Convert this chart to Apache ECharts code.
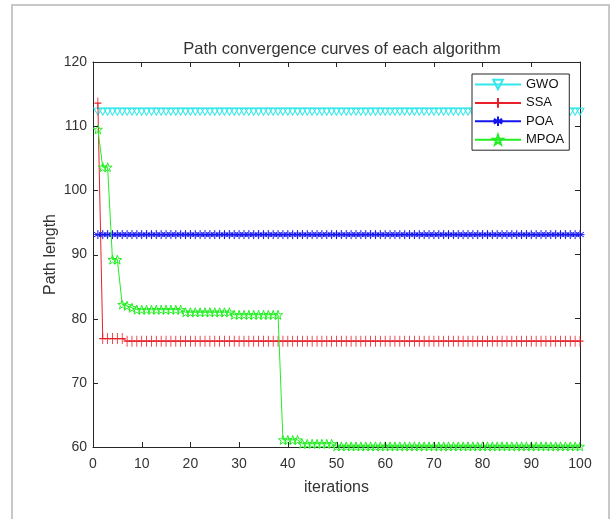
<!DOCTYPE html>
<html>
<head>
    <meta charset="utf-8">
    <title>Path convergence curves</title>
    <script src="https://cdn.jsdelivr.net/npm/echarts@6/dist/echarts.min.js"></script>
    <style>
        html, body { margin: 0; padding: 0; background: #fff; }
        #main { width: 614px; height: 519px; }
    </style>
</head>
<body>
    <div id="main"></div>
    <script type="text/javascript">
        // iterations 1..100
        var iterations = [
            1, 2, 3, 4, 5, 6, 7, 8, 9, 10,
            11, 12, 13, 14, 15, 16, 17, 18, 19, 20,
            21, 22, 23, 24, 25, 26, 27, 28, 29, 30,
            31, 32, 33, 34, 35, 36, 37, 38, 39, 40,
            41, 42, 43, 44, 45, 46, 47, 48, 49, 50,
            51, 52, 53, 54, 55, 56, 57, 58, 59, 60,
            61, 62, 63, 64, 65, 66, 67, 68, 69, 70,
            71, 72, 73, 74, 75, 76, 77, 78, 79, 80,
            81, 82, 83, 84, 85, 86, 87, 88, 89, 90,
            91, 92, 93, 94, 95, 96, 97, 98, 99, 100
        ];
        var gwo = [
            112.8, 112.8, 112.8, 112.8, 112.8, 112.8, 112.8, 112.8, 112.8, 112.8,
            112.8, 112.8, 112.8, 112.8, 112.8, 112.8, 112.8, 112.8, 112.8, 112.8,
            112.8, 112.8, 112.8, 112.8, 112.8, 112.8, 112.8, 112.8, 112.8, 112.8,
            112.8, 112.8, 112.8, 112.8, 112.8, 112.8, 112.8, 112.8, 112.8, 112.8,
            112.8, 112.8, 112.8, 112.8, 112.8, 112.8, 112.8, 112.8, 112.8, 112.8,
            112.8, 112.8, 112.8, 112.8, 112.8, 112.8, 112.8, 112.8, 112.8, 112.8,
            112.8, 112.8, 112.8, 112.8, 112.8, 112.8, 112.8, 112.8, 112.8, 112.8,
            112.8, 112.8, 112.8, 112.8, 112.8, 112.8, 112.8, 112.8, 112.8, 112.8,
            112.8, 112.8, 112.8, 112.8, 112.8, 112.8, 112.8, 112.8, 112.8, 112.8,
            112.8, 112.8, 112.8, 112.8, 112.8, 112.8, 112.8, 112.8, 112.8, 112.8
        ];
        var ssa = [
            113.6, 76.9, 76.9, 76.9, 76.9, 76.9, 76.5, 76.5, 76.5, 76.5,
            76.5, 76.5, 76.5, 76.5, 76.5, 76.5, 76.5, 76.5, 76.5, 76.5,
            76.5, 76.5, 76.5, 76.5, 76.5, 76.5, 76.5, 76.5, 76.5, 76.5,
            76.5, 76.5, 76.5, 76.5, 76.5, 76.5, 76.5, 76.5, 76.5, 76.5,
            76.5, 76.5, 76.5, 76.5, 76.5, 76.5, 76.5, 76.5, 76.5, 76.5,
            76.5, 76.5, 76.5, 76.5, 76.5, 76.5, 76.5, 76.5, 76.5, 76.5,
            76.5, 76.5, 76.5, 76.5, 76.5, 76.5, 76.5, 76.5, 76.5, 76.5,
            76.5, 76.5, 76.5, 76.5, 76.5, 76.5, 76.5, 76.5, 76.5, 76.5,
            76.5, 76.5, 76.5, 76.5, 76.5, 76.5, 76.5, 76.5, 76.5, 76.5,
            76.5, 76.5, 76.5, 76.5, 76.5, 76.5, 76.5, 76.5, 76.5, 76.5
        ];
        var poa = [
            93.1, 93.1, 93.1, 93.1, 93.1, 93.1, 93.1, 93.1, 93.1, 93.1,
            93.1, 93.1, 93.1, 93.1, 93.1, 93.1, 93.1, 93.1, 93.1, 93.1,
            93.1, 93.1, 93.1, 93.1, 93.1, 93.1, 93.1, 93.1, 93.1, 93.1,
            93.1, 93.1, 93.1, 93.1, 93.1, 93.1, 93.1, 93.1, 93.1, 93.1,
            93.1, 93.1, 93.1, 93.1, 93.1, 93.1, 93.1, 93.1, 93.1, 93.1,
            93.1, 93.1, 93.1, 93.1, 93.1, 93.1, 93.1, 93.1, 93.1, 93.1,
            93.1, 93.1, 93.1, 93.1, 93.1, 93.1, 93.1, 93.1, 93.1, 93.1,
            93.1, 93.1, 93.1, 93.1, 93.1, 93.1, 93.1, 93.1, 93.1, 93.1,
            93.1, 93.1, 93.1, 93.1, 93.1, 93.1, 93.1, 93.1, 93.1, 93.1,
            93.1, 93.1, 93.1, 93.1, 93.1, 93.1, 93.1, 93.1, 93.1, 93.1
        ];
        var mpoa = [
            109.5, 103.6, 103.6, 89.2, 89.2, 82.2, 82.0, 81.7, 81.4, 81.4,
            81.4, 81.4, 81.4, 81.4, 81.4, 81.4, 81.4, 81.4, 81.0, 81.0,
            81.0, 81.0, 81.0, 81.0, 81.0, 81.0, 81.0, 81.0, 80.6, 80.6,
            80.6, 80.6, 80.6, 80.6, 80.6, 80.6, 80.6, 80.6, 61.1, 61.1,
            61.1, 61.1, 60.5, 60.5, 60.5, 60.5, 60.5, 60.5, 60.5, 60.1,
            60.1, 60.1, 60.1, 60.1, 60.1, 60.1, 60.1, 60.1, 60.1, 60.1,
            60.1, 60.1, 60.1, 60.1, 60.1, 60.1, 60.1, 60.1, 60.1, 60.1,
            60.1, 60.1, 60.1, 60.1, 60.1, 60.1, 60.1, 60.1, 60.1, 60.1,
            60.1, 60.1, 60.1, 60.1, 60.1, 60.1, 60.1, 60.1, 60.1, 60.1,
            60.1, 60.1, 60.1, 60.1, 60.1, 60.1, 60.1, 60.1, 60.1, 60.1
        ];
        var names = ['GWO', 'SSA', 'POA', 'MPOA'];
        var xTickVals = [0, 10, 20, 30, 40, 50, 60, 70, 80, 90, 100];
        var yTickVals = [60, 70, 80, 90, 100, 110, 120];

        function pairs(ys) {
            var out = [];
            for (var i = 0; i < iterations.length; i++) {
                out.push([iterations[i], ys[i]]);
            }
            return out;
        }

        var FONT = '"Liberation Sans", Arial, sans-serif';
        var TXT = '#333';
        var AX = '#262626';

        // marker shapes (matlab style)
        var triDown = 'path://M-5,-3L5,-3L0,5Z';
        var plus = 'path://M0,-5L0,5M-3.5,0L3.5,0';
        var aster = 'path://M0,-5L0,5M-4.33,-2.5L4.33,2.5M-4.33,2.5L4.33,-2.5M-5,0L5,0';
        var star = 'path://M0,-10L2.35,-3.24L9.51,-3.09L3.8,1.24L5.88,8.09L0,4L-5.88,8.09L-3.8,1.24L-9.51,-3.09L-2.35,-3.24Z';

        function lineSeries(name, ys, color, symbol, size, offset, z) {
            return {
                name: name,
                type: 'line',
                data: pairs(ys),
                symbol: symbol,
                symbolSize: size,
                symbolOffset: offset,
                showSymbol: true,
                z: z,
                lineStyle: { color: color, width: 1 },
                itemStyle: { color: 'rgba(0,0,0,0)', borderColor: color, borderWidth: 1 },
                emphasis: { disabled: true }
            };
        }

        function xAx(pos, labels) {
            var a = {
                type: 'value',
                min: xTickVals[0], max: xTickVals[xTickVals.length - 1], interval: 10,
                position: pos,
                axisLine: { show: true, onZero: false, lineStyle: { color: AX, width: 1 } },
                axisTick: { show: !labels, inside: true, length: 5, lineStyle: { color: AX } },
                axisLabel: { show: labels, fontSize: 14, color: TXT, margin: 10 },
                splitLine: { show: false }
            };
            if (labels) {
                a.name = 'iterations';
                a.nameLocation = 'middle';
                a.nameGap = 33;
                a.nameTextStyle = { fontSize: 16, color: TXT };
            }
            return a;
        }
        function yAx(pos, labels) {
            var a = {
                type: 'value',
                min: yTickVals[0], max: yTickVals[yTickVals.length - 1], interval: 10,
                position: pos,
                axisLine: { show: true, onZero: false, lineStyle: { color: AX, width: 1 } },
                axisTick: { show: !labels, inside: true, length: 5, lineStyle: { color: AX } },
                axisLabel: { show: labels, fontSize: 14, color: TXT, margin: 6 },
                splitLine: { show: false }
            };
            if (labels) {
                a.name = 'Path length';
                a.nameLocation = 'middle';
                a.nameGap = 34;
                a.nameMoveOverlap = false;
                a.nameTextStyle = { fontSize: 16, color: TXT };
            }
            return a;
        }

        var chart = echarts.init(document.getElementById('main'));
        var option = {
            animation: false,
            textStyle: { fontFamily: FONT },
            title: {
                text: 'Path convergence curves of each algorithm',
                left: 337,
                top: 36,
                textAlign: 'center',
                textStyle: { fontSize: 16.5, fontWeight: 'normal', color: TXT, fontFamily: FONT }
            },
            legend: {
                data: names,
                orient: 'vertical',
                left: 472,
                top: 74,
                padding: [4, 5, 4, 2],
                itemWidth: 46,
                itemHeight: 12,
                itemGap: 5.4,
                borderColor: AX,
                borderWidth: 1,
                backgroundColor: '#fff',
                textStyle: { fontSize: 13, color: '#111', fontFamily: FONT }
            },
            grid: { left: 93, right: 34, top: 62, bottom: 72 },
            xAxis: [xAx('bottom', true), xAx('top', false)],
            yAxis: [yAx('left', true), yAx('right', false)],
            series: [
                lineSeries('GWO', gwo, '#33e8ea', triDown, [8, 7], [0, 3.5], 2),
                lineSeries('SSA', ssa, '#e8202a', plus, [7, 11], [0, 0], 3),
                lineSeries('POA', poa, '#1515f0', aster, [9, 9], [0, 0], 4),
                lineSeries('MPOA', mpoa, '#22ee22', star, [9, 9], [0, 0], 5)
            ]
        };
        chart.setOption(option);

        // inward ticks on the bottom and left edges, placed through the axis scales
        var deco = [{
            type: 'rect',
            shape: { x: 12, y: 5, width: 597, height: 530 },
            style: { fill: 'none', stroke: '#c8c8c8', lineWidth: 2 },
            silent: true
        }];
        xTickVals.forEach(function (v) {
            var p = chart.convertToPixel({ xAxisIndex: 0, yAxisIndex: 0 }, [v, yTickVals[0]]);
            var x = Math.round(p[0]) + 0.5;
            deco.push({
                type: 'line', silent: true, z: 10,
                shape: { x1: x, y1: p[1], x2: x, y2: p[1] - 5 },
                style: { stroke: AX, lineWidth: 1 }
            });
        });
        yTickVals.forEach(function (v) {
            var p = chart.convertToPixel({ xAxisIndex: 0, yAxisIndex: 0 }, [xTickVals[0], v]);
            var y = Math.round(p[1]) + 0.5;
            deco.push({
                type: 'line', silent: true, z: 10,
                shape: { x1: p[0], y1: y, x2: p[0] + 5, y2: y },
                style: { stroke: AX, lineWidth: 1 }
            });
        });
        chart.setOption({ graphic: deco });
    </script>
</body>
</html>
